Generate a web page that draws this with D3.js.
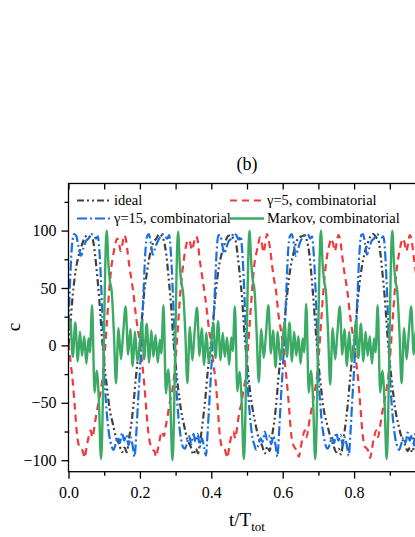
<!DOCTYPE html>
<html>
<head>
<meta charset="utf-8">
<script src="https://cdn.jsdelivr.net/npm/d3@7/dist/d3.min.js"></script>
<style>
body { margin: 0; background: #fff; }
svg { display: block; }
svg text { font-family: "Liberation Serif", "Times New Roman", serif; fill: #000; }
</style>
</head>
<body>
<svg id="chart" width="415" height="537"></svg>
<script>
// values, [t/Ttot, c]
var ideal = [
  [0,0],[0.006,22],[0.012,44],[0.021,67],[0.03,80],[0.038,88],[0.046,94],[0.054,96],[0.062,94],[0.068,92],[0.074,80],[0.08,62],[0.086,41],[0.093,10],[0.1,-15],[0.107,-35],[0.115,-55],[0.124,-68],[0.133,-80],[0.142,-86],[0.15,-93],[0.157,-89],[0.163,-93],[0.17,-80],[0.177,-66],[0.183,-48],[0.189,-27],[0.195,-10],
  [0.2,3],[0.206,25],[0.212,46],[0.221,66],[0.23,82],[0.238,90],[0.246,93],[0.254,97],[0.262,95],[0.268,90],[0.274,79],[0.28,60],[0.286,40],[0.293,8],[0.3,-16],[0.307,-37],[0.315,-56],[0.324,-70],[0.333,-82],[0.342,-88],[0.35,-95],[0.357,-90],[0.363,-94],[0.37,-81],[0.377,-64],[0.383,-47],[0.389,-26],[0.395,-8],
  [0.4,5],[0.406,24],[0.412,45],[0.421,68],[0.43,81],[0.438,89],[0.446,95],[0.454,96],[0.462,93],[0.468,91],[0.474,78],[0.48,61],[0.486,42],[0.493,9],[0.5,-14],[0.507,-36],[0.515,-54],[0.524,-69],[0.533,-81],[0.542,-87],[0.55,-94],[0.557,-88],[0.563,-92],[0.57,-79],[0.577,-65],[0.583,-47],[0.589,-25],[0.595,-9],
  [0.6,2],[0.606,23],[0.612,43],[0.621,66],[0.63,80],[0.638,90],[0.646,94],[0.654,95],[0.662,96],[0.668,91],[0.674,81],[0.68,63],[0.686,40],[0.693,11],[0.7,-15],[0.707,-36],[0.715,-56],[0.724,-68],[0.733,-79],[0.742,-87],[0.75,-93],[0.757,-90],[0.763,-95],[0.77,-82],[0.777,-66],[0.783,-49],[0.789,-28],[0.795,-9],
  [0.8,4],[0.806,24],[0.812,45],[0.821,67],[0.83,81],[0.838,89],[0.846,95],[0.854,97],[0.862,94],[0.868,92],[0.874,79],[0.88,61],[0.886,41],[0.893,10],[0.9,-15],[0.907,-35],[0.915,-55],[0.924,-69],[0.933,-80],[0.942,-86],[0.95,-92],[0.957,-89],[0.963,-93],[0.97,-81],[0.977,-65],[0.983,-47]
];

var gamma5 = [
  [0,2],[0.006,-15],[0.012,-32],[0.018,-55],[0.024,-78],[0.03,-88],[0.036,-90],[0.041,-93],[0.045,-98],[0.05,-90],[0.056,-80],[0.062,-74],[0.067,-80],[0.072,-72],[0.078,-60],[0.084,-50],[0.09,-40],[0.096,-27],[0.102,-5],[0.108,22],[0.114,48],[0.12,68],[0.126,80],[0.131,88],[0.136,93],[0.141,90],[0.146,82],[0.151,88],[0.156,96],[0.161,92],[0.166,80],[0.171,68],[0.176,58],[0.182,45],[0.188,28],[0.194,14],
  [0.2,3],[0.206,-14],[0.212,-33],[0.218,-56],[0.224,-77],[0.23,-87],[0.236,-91],[0.241,-92],[0.245,-97],[0.25,-91],[0.256,-81],[0.262,-75],[0.267,-79],[0.272,-71],[0.278,-61],[0.284,-49],[0.29,-41],[0.296,-26],[0.302,-4],[0.308,23],[0.314,49],[0.32,67],[0.326,81],[0.331,89],[0.336,92],[0.341,89],[0.346,83],[0.351,89],[0.356,95],[0.361,93],[0.366,79],[0.371,67],[0.376,57],[0.382,44],[0.388,29],[0.394,13],
  [0.4,1],[0.406,-16],[0.412,-31],[0.418,-54],[0.424,-79],[0.43,-88],[0.436,-89],[0.441,-94],[0.445,-98],[0.45,-89],[0.456,-79],[0.462,-75],[0.467,-81],[0.472,-72],[0.478,-59],[0.484,-51],[0.49,-39],[0.496,-28],[0.502,-6],[0.508,21],[0.514,47],[0.52,69],[0.526,80],[0.531,87],[0.536,94],[0.541,90],[0.546,81],[0.551,88],[0.556,97],[0.561,91],[0.566,81],[0.571,68],[0.576,57],[0.582,46],[0.588,27],[0.594,15],
  [0.6,2],[0.606,-15],[0.612,-33],[0.618,-55],[0.624,-78],[0.63,-87],[0.636,-90],[0.641,-93],[0.645,-97],[0.65,-90],[0.656,-80],[0.662,-74],[0.667,-80],[0.672,-71],[0.678,-60],[0.684,-50],[0.69,-40],[0.696,-27],[0.702,-5],[0.708,22],[0.714,48],[0.72,68],[0.726,81],[0.731,88],[0.736,93],[0.741,89],[0.746,82],[0.751,89],[0.756,96],[0.761,92],[0.766,80],[0.771,67],[0.776,58],[0.782,45],[0.788,28],[0.794,14],
  [0.8,3],[0.806,-15],[0.812,-32],[0.818,-55],[0.824,-78],[0.83,-88],[0.836,-90],[0.841,-93],[0.845,-98],[0.85,-90],[0.856,-80],[0.862,-74],[0.867,-80],[0.872,-72],[0.878,-60],[0.884,-50],[0.89,-40],[0.896,-27],[0.902,-5],[0.908,22],[0.914,48],[0.92,68],[0.926,80],[0.931,88],[0.936,93],[0.941,90],[0.946,82],[0.951,88],[0.956,96],[0.961,92],[0.966,80],[0.971,68],[0.976,58],[0.982,45],[0.988,28]
];

var gamma15 = [
  [0,18],[0.005,60],[0.01,88],[0.016,97],[0.022,95],[0.028,86],[0.035,78],[0.042,85],[0.049,91],[0.056,93],[0.063,97],[0.07,96],[0.077,93],[0.082,95],[0.086,85],[0.091,56],[0.096,15],[0.1,-24],[0.105,-50],[0.11,-68],[0.115,-80],[0.12,-87],[0.126,-91],[0.132,-86],[0.138,-80],[0.144,-85],[0.15,-76],[0.156,-83],[0.162,-78],[0.168,-87],[0.174,-80],[0.18,-88],[0.185,-97],[0.19,-76],[0.195,-48],
  [0.2,-22],[0.205,8],[0.21,45],[0.215,80],[0.22,95],[0.225,97],[0.231,88],[0.236,79],[0.242,84],[0.249,90],[0.256,94],[0.263,97],[0.27,95],[0.277,93],[0.282,96],[0.286,84],[0.291,55],[0.296,14],[0.3,-25],[0.305,-51],[0.31,-69],[0.315,-81],[0.32,-88],[0.326,-90],[0.332,-85],[0.338,-79],[0.344,-86],[0.35,-77],[0.356,-84],[0.362,-77],[0.368,-88],[0.374,-81],[0.38,-89],[0.385,-96],[0.39,-74],[0.395,-47],
  [0.4,-20],[0.405,10],[0.41,48],[0.415,82],[0.42,96],[0.425,96],[0.431,87],[0.436,80],[0.442,85],[0.449,91],[0.456,93],[0.463,98],[0.47,96],[0.477,92],[0.482,95],[0.486,85],[0.491,57],[0.496,16],[0.5,-23],[0.505,-49],[0.51,-67],[0.515,-80],[0.52,-86],[0.526,-91],[0.532,-87],[0.538,-81],[0.544,-84],[0.55,-75],[0.556,-82],[0.562,-79],[0.568,-86],[0.574,-79],[0.58,-87],[0.585,-97],[0.59,-75],[0.595,-46],
  [0.6,-21],[0.605,9],[0.61,46],[0.615,81],[0.62,95],[0.625,97],[0.631,89],[0.636,78],[0.642,83],[0.649,90],[0.656,94],[0.663,96],[0.67,97],[0.677,93],[0.682,95],[0.686,84],[0.691,56],[0.696,15],[0.7,-24],[0.705,-50],[0.71,-68],[0.715,-79],[0.72,-87],[0.726,-90],[0.732,-86],[0.738,-80],[0.744,-85],[0.75,-76],[0.756,-83],[0.762,-78],[0.768,-87],[0.774,-80],[0.78,-88],[0.785,-96],[0.79,-75],[0.795,-47],
  [0.8,-21],[0.805,9],[0.81,47],[0.815,81],[0.82,96],[0.825,97],[0.831,88],[0.836,79],[0.842,84],[0.849,91],[0.856,93],[0.863,97],[0.87,96],[0.877,94],[0.882,95],[0.886,85],[0.891,56],[0.896,15],[0.9,-24],[0.905,-50],[0.91,-68],[0.915,-80],[0.92,-87],[0.926,-91],[0.932,-86],[0.938,-80],[0.944,-85],[0.95,-76],[0.956,-83],[0.962,-78],[0.968,-87],[0.974,-80],[0.98,-88]
];

var markov = [
  [0,15],[0.005,21],[0.012,-10],[0.019,20],[0.026,-14],[0.032,12],[0.038,-9],[0.044,8],[0.05,-16],[0.056,6],[0.06,-6],[0.066,35],[0.073,-41],[0.079,-22],[0.085,-47],[0.091,-99],[0.107,100],[0.112,70],[0.116,56],[0.121,47],[0.127,12],[0.133,-33],[0.14,15],[0.147,-12],[0.153,10],[0.16,34],[0.167,-8],[0.173,14],[0.18,-18],[0.186,12],[0.193,-14],
  [0.2,3],[0.205,22],[0.212,-12],[0.219,19],[0.226,-15],[0.232,13],[0.238,-10],[0.244,9],[0.25,-15],[0.256,5],[0.26,-7],[0.266,35],[0.273,-42],[0.279,-21],[0.285,-46],[0.291,-100],[0.307,99],[0.312,69],[0.316,55],[0.321,46],[0.327,13],[0.333,-33],[0.34,16],[0.347,-13],[0.353,11],[0.36,33],[0.367,-9],[0.373,15],[0.38,-17],[0.386,11],[0.393,-15],
  [0.4,2],[0.405,20],[0.412,-11],[0.419,21],[0.426,-13],[0.432,11],[0.438,-10],[0.444,7],[0.45,-17],[0.456,7],[0.46,-5],[0.466,34],[0.473,-40],[0.479,-23],[0.485,-48],[0.491,-99],[0.507,100],[0.512,71],[0.516,57],[0.521,48],[0.527,11],[0.533,-32],[0.54,14],[0.547,-11],[0.553,9],[0.56,35],[0.567,-7],[0.573,13],[0.58,-19],[0.586,12],[0.593,-13],
  [0.6,3],[0.605,21],[0.612,-10],[0.619,20],[0.626,-14],[0.632,12],[0.638,-9],[0.644,8],[0.65,-16],[0.656,6],[0.66,-6],[0.666,36],[0.673,-41],[0.679,-22],[0.685,-47],[0.691,-99],[0.707,100],[0.712,70],[0.716,56],[0.721,47],[0.727,12],[0.733,-34],[0.74,15],[0.747,-12],[0.753,10],[0.76,34],[0.767,-8],[0.773,14],[0.78,-18],[0.786,12],[0.793,-14],
  [0.8,2],[0.805,22],[0.812,-11],[0.819,19],[0.826,-14],[0.832,12],[0.838,-9],[0.844,8],[0.85,-16],[0.856,6],[0.86,-6],[0.866,35],[0.873,-41],[0.879,-22],[0.885,-47],[0.891,-99],[0.907,100],[0.912,70],[0.916,56],[0.921,47],[0.927,12],[0.933,-33],[0.94,15],[0.947,-12],[0.953,10],[0.96,34],[0.967,-8],[0.973,14],[0.98,-18],[0.986,12],[0.993,-14]
];

var xMajor = [0, 0.2, 0.4, 0.6, 0.8];
var xMinor = [0.1, 0.3, 0.5, 0.7, 0.9];
var yMajor = [-100, -50, 0, 50, 100];
var yMinor = [-75, -25, 25, 75, 125];

var series = [
  {label: 'ideal', data: ideal, color: '#404040', dash: '7,3,2,3,2,3', width: 2.2},
  {label: '\u03b3=5, combinatorial', data: gamma5, color: '#ef3a3f', dash: '7,5', width: 2.2},
  {label: '\u03b3=15, combinatorial', data: gamma15, color: '#1a6ee0', dash: '10,3,2,3', width: 2.2},
  {label: 'Markov, combinatorial', data: markov, color: '#3aaa64', dash: null, width: 2.4}
];

(function() {
  var svg = d3.select('#chart');
  var pl = 68.5, pr = 425.5, pt = 183.5, pb = 471.7;

  var x = d3.scaleLinear().domain([0, 1]).range([pl, pr]);
  var y = d3.scaleLinear().domain([-110, 141]).range([pb, pt]);

  svg.append('defs').append('clipPath')
    .attr('id', 'plotclip')
    .append('rect')
    .attr('x', pl).attr('y', pt)
    .attr('width', pr - pl).attr('height', pb - pt);

  // curves
  var line = d3.line()
    .x(function(d) { return x(d[0]); })
    .y(function(d) { return y(d[1]); })
    .curve(d3.curveMonotoneX);

  var lines = svg.append('g').attr('clip-path', 'url(#plotclip)');
  series.forEach(function(s) {
    lines.append('path')
      .datum(s.data)
      .attr('d', line)
      .attr('fill', 'none')
      .attr('stroke', s.color)
      .attr('stroke-width', s.width)
      .attr('stroke-linejoin', 'round')
      .attr('stroke-dasharray', s.dash);
  });

  // axes
  function styleAxis(g) {
    g.attr('font-family', null).attr('font-size', null);
    g.select('.domain').remove();
    g.selectAll('line').attr('stroke', '#000').attr('stroke-width', 1.3);
    g.selectAll('text').attr('fill', '#000').style('font-size', '16px');
  }

  svg.append('g')
    .attr('transform', 'translate(0,' + pb + ')')
    .call(d3.axisBottom(x).tickValues(xMajor).tickSize(7).tickPadding(8).tickFormat(d3.format('.1f')))
    .call(styleAxis);
  svg.append('g')
    .attr('transform', 'translate(0,' + pb + ')')
    .call(d3.axisBottom(x).tickValues(xMinor).tickSize(4).tickFormat(''))
    .call(styleAxis);
  svg.append('g')
    .attr('transform', 'translate(0,' + pt + ')')
    .call(d3.axisTop(x).tickValues(xMajor.concat(xMinor)).tickSize(-6).tickFormat(''))
    .call(styleAxis);

  svg.append('g')
    .attr('transform', 'translate(' + pl + ',0)')
    .call(d3.axisLeft(y).tickValues(yMajor).tickSize(7).tickPadding(5).tickFormat(d3.format('d')))
    .call(styleAxis);
  svg.append('g')
    .attr('transform', 'translate(' + pl + ',0)')
    .call(d3.axisLeft(y).tickValues(yMinor).tickSize(4).tickFormat(''))
    .call(styleAxis);

  svg.append('rect')
    .attr('x', pl).attr('y', pt)
    .attr('width', pr - pl).attr('height', pb - pt)
    .attr('fill', 'none')
    .attr('stroke', '#000')
    .attr('stroke-width', 1.3);

  // legend, two columns
  var legendPos = [
    {lx: 77, ty: 205},
    {lx: 230, ty: 205},
    {lx: 77, ty: 223},
    {lx: 230, ty: 223}
  ];
  var legend = svg.append('g');
  series.forEach(function(s, i) {
    var p = legendPos[i];
    legend.append('line')
      .attr('x1', p.lx).attr('x2', p.lx + 34)
      .attr('y1', p.ty - 4.5).attr('y2', p.ty - 4.5)
      .attr('stroke', s.color)
      .attr('stroke-width', s.width)
      .attr('stroke-dasharray', s.dash);
    legend.append('text')
      .attr('x', p.lx + 37)
      .attr('y', p.ty)
      .style('font-size', '14.5px')
      .text(s.label);
  });

  // titles
  svg.append('text')
    .attr('x', (pl + pr) / 2)
    .attr('y', 170)
    .attr('text-anchor', 'middle')
    .style('font-size', '18px')
    .text('(b)');

  var xt = svg.append('text')
    .attr('x', (pl + pr) / 2)
    .attr('y', 526)
    .attr('text-anchor', 'middle')
    .style('font-size', '19px');
  xt.append('tspan').text('t/T');
  xt.append('tspan').attr('dy', 5).style('font-size', '13px').text('tot');

  svg.append('text')
    .attr('transform', 'translate(20,327) rotate(-90)')
    .attr('text-anchor', 'middle')
    .style('font-size', '19px')
    .text('c');
})();
</script>
</body>
</html>
